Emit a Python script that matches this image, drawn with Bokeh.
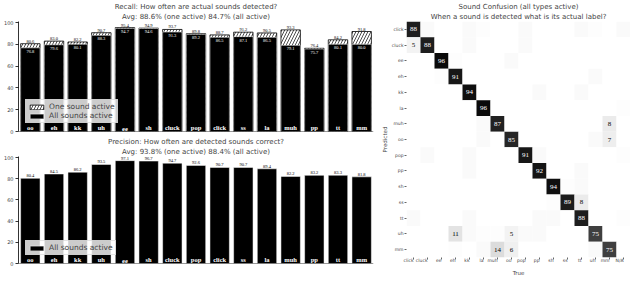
from bokeh.plotting import figure
from bokeh.layouts import row, column
from bokeh.models import ColumnDataSource, FactorRange, Range1d, Title, Span, FixedTicker
from bokeh.transform import linear_cmap
from bokeh.palettes import Greys256
from bokeh.embed import file_html
from bokeh.resources import INLINE

FONT = "DejaVu Sans"

# ---------------- data ----------------
sounds = ["oo", "eh", "kk", "uh", "ee", "sh", "cluck", "pop", "click", "ss", "la", "muh", "pp", "tt", "mm"]
recall_one = [80.6, 83.0, 82.2, 90.7, 95.4, 94.9, 93.7, 89.8, 88.7, 91.2, 90.5, 93.3, 76.4, 84.2, 91.8]
recall_all = [76.8, 79.6, 80.1, 88.3, 94.7, 94.6, 91.3, 89.2, 86.5, 87.1, 86.5, 79.1, 75.7, 80.1, 80.0]
precision_all = [80.4, 84.5, 86.2, 93.5, 97.1, 96.7, 94.7, 92.6, 90.7, 90.7, 89.4, 82.2, 83.2, 83.3, 81.8]
y_ticks = [0, 20, 40, 60, 80, 100]

recall_title = "Recall: How often are actual sounds detected?"
recall_sub = "Avg: 88.6% (one active) 84.7% (all active)"
precision_title = "Precision: How often are detected sounds correct?"
precision_sub = "Avg: 93.8% (one active) 88.4% (all active)"

pred_labels = ["click", "cluck", "ee", "eh", "kk", "la", "muh", "oo", "pop", "pp", "sh", "ss", "tt", "uh", "mm"]
true_labels = ["click", "cluck", "ee", "eh", "kk", "la", "muh", "oo", "pop", "pp", "sh", "ss", "tt", "uh", "mm", "N/A"]
confusion = [
    [88, 2, 0, 0, 2, 1, 0, 0, 2, 0, 0, 0, 2, 1, 0, 2],
    [5, 88, 0, 0, 2, 0, 0, 0, 2, 0, 0, 0, 0, 0, 0, 0],
    [0, 0, 96, 1, 0, 0, 0, 2, 0, 0, 0, 0, 0, 0, 0, 0],
    [0, 0, 1, 91, 0, 0, 0, 0, 0, 0, 0, 0, 0, 2, 0, 0],
    [0, 0, 0, 0, 94, 0, 0, 0, 0, 2, 0, 0, 2, 0, 0, 0],
    [0, 0, 0, 0, 0, 96, 0, 0, 0, 0, 0, 0, 0, 0, 0, 1],
    [0, 0, 0, 0, 0, 2, 87, 0, 0, 0, 0, 0, 0, 0, 8, 0],
    [0, 0, 0, 0, 0, 2, 0, 85, 0, 0, 0, 0, 0, 2, 7, 0],
    [0, 2, 0, 0, 2, 0, 0, 0, 91, 2, 0, 0, 0, 0, 0, 1],
    [0, 0, 0, 0, 2, 0, 0, 0, 0, 92, 0, 0, 2, 0, 0, 0],
    [0, 0, 0, 0, 0, 0, 0, 0, 0, 0, 94, 1, 2, 0, 0, 0],
    [0, 0, 0, 0, 0, 0, 0, 0, 0, 0, 1, 89, 8, 0, 0, 0],
    [2, 0, 0, 0, 2, 0, 0, 0, 0, 2, 2, 0, 88, 0, 0, 1],
    [0, 0, 0, 11, 2, 1, 1, 5, 2, 2, 0, 0, 0, 75, 0, 0],
    [0, 0, 0, 1, 0, 2, 14, 6, 0, 0, 0, 0, 0, 2, 75, 0],
]
conf_title = "Sound Confusion (all types active)"
conf_sub = "When a sound is detected what is its actual label?"


def add_titles(p, main, sub):
    p.add_layout(Title(text=sub, align="center", text_font=FONT, text_font_size="7px",
                       text_font_style="normal", standoff=1), "above")
    p.add_layout(Title(text=main, align="center", text_font=FONT, text_font_size="7px",
                       text_font_style="normal", standoff=0), "above")


def style_bar_fig(p):
    p.xgrid.visible = False
    p.ygrid.visible = False
    p.outline_line_color = None
    p.xaxis.visible = False
    p.yaxis.ticker = FixedTicker(ticks=y_ticks)
    p.yaxis.major_label_text_font_size = "5px"
    p.yaxis.major_label_text_font = FONT
    p.yaxis.major_label_standoff = 2
    p.yaxis.major_tick_out = 3
    p.yaxis.major_tick_in = 0
    p.yaxis.minor_tick_line_color = None
    p.yaxis.axis_line_width = 0.8
    p.yaxis.major_tick_line_width = 0.8
    p.add_layout(Span(location=0, dimension="width", line_color="black", line_width=0.8))


def style_legend(p):
    lg = p.legend[0]
    lg.location = (7, 8)
    lg.label_text_font = FONT
    lg.label_text_font_size = "7.5px"
    lg.glyph_width = 17
    lg.glyph_height = 6
    lg.label_height = 7
    lg.label_standoff = 4
    lg.spacing = 0
    lg.padding = 2
    lg.margin = 0
    lg.background_fill_color = "white"
    lg.background_fill_alpha = 0.8
    lg.border_line_color = "#cccccc"
    lg.border_line_width = 0.6


# ---------------- recall ----------------
rsrc = ColumnDataSource(dict(
    x=sounds, one=recall_one, all=recall_all,
    one_lbl=[f"{v:.1f}" for v in recall_one],
    all_lbl=[f"{v:.1f}" for v in recall_all],
    base=[0] * len(sounds),
))
p1 = figure(x_range=FactorRange(factors=sounds), y_range=Range1d(0, 101),
            width=378, height=135, output_backend="svg", toolbar_location=None,
            title=None, min_border_left=2, min_border_right=5, min_border_top=0, min_border_bottom=4)
add_titles(p1, recall_title, recall_sub)
p1.vbar(x="x", top="one", width=0.82, source=rsrc, fill_color="white", line_color="black",
        line_width=0.8, hatch_pattern="/", hatch_color="black", hatch_scale=6, hatch_weight=0.7,
        legend_label="One sound active")
p1.vbar(x="x", top="all", width=0.82, source=rsrc, fill_color="black", line_color="white",
        line_width=0.5, legend_label="All sounds active")
p1.text(x="x", y="one", text="one_lbl", source=rsrc, text_font=FONT, text_font_size="4.5px",
        text_align="center", text_baseline="bottom", y_offset=-1, text_color="black")
p1.text(x="x", y="all", text="all_lbl", source=rsrc, text_font=FONT, text_font_size="4.5px",
        text_align="center", text_baseline="top", y_offset=2, text_color="white")
p1.text(x="x", y="base", text="x", source=rsrc, text_font=FONT, text_font_size="6.5px",
        text_font_style="bold", text_align="center", text_baseline="bottom", y_offset=-1,
        text_color="white")
style_bar_fig(p1)
style_legend(p1)

# ---------------- precision ----------------
psrc = ColumnDataSource(dict(
    x=sounds, all=precision_all,
    all_lbl=[f"{v:.1f}" for v in precision_all],
    base=[0] * len(sounds),
))
p2 = figure(x_range=FactorRange(factors=sounds), y_range=Range1d(0, 101),
            width=378, height=140, output_backend="svg", toolbar_location=None,
            title=None, min_border_left=2, min_border_right=5, min_border_top=0, min_border_bottom=12)
add_titles(p2, precision_title, precision_sub)
p2.vbar(x="x", top="all", width=0.82, source=psrc, fill_color="black", line_color="white",
        line_width=0.5, legend_label="All sounds active")
p2.text(x="x", y="all", text="all_lbl", source=psrc, text_font=FONT, text_font_size="4.5px",
        text_align="center", text_baseline="bottom", y_offset=-1, text_color="black")
p2.text(x="x", y="base", text="x", source=psrc, text_font=FONT, text_font_size="6.5px",
        text_font_style="bold", text_align="center", text_baseline="bottom", y_offset=-1,
        text_color="white")
style_bar_fig(p2)
style_legend(p2)

# ---------------- confusion ----------------
xs, ys, vs, lbls, tcol = [], [], [], [], []
for i, pl in enumerate(pred_labels):
    for j, tl in enumerate(true_labels):
        v = confusion[i][j]
        xs.append(tl)
        ys.append(pl)
        vs.append(v)
        lbls.append(str(v) if v >= 5 else "")
        tcol.append("white" if v > 50 else "black")
csrc = ColumnDataSource(dict(x=xs, y=ys, v=vs, lbl=lbls, tc=tcol))

p3 = figure(x_range=FactorRange(factors=true_labels), y_range=FactorRange(factors=pred_labels[::-1]),
            frame_width=224, frame_height=236, output_backend="svg", toolbar_location=None,
            title=None, min_border_left=0, min_border_right=0, min_border_top=0, min_border_bottom=0)
add_titles(p3, conf_title, conf_sub)
p3.rect(x="x", y="y", width=1, height=1, source=csrc, line_color=None,
        fill_color=linear_cmap("v", list(reversed(Greys256)), 0, 100))
p3.text(x="x", y="y", text="lbl", source=csrc, text_font=FONT, text_font_size="7px",
        text_align="center", text_baseline="middle", text_color="tc")
p3.xgrid.visible = False
p3.ygrid.visible = False
p3.outline_line_color = None
for ax in (p3.xaxis[0], p3.yaxis[0]):
    ax.major_label_text_font = FONT
    ax.major_label_text_font_size = "4.5px"
    ax.major_label_standoff = 1
    ax.major_tick_out = 2
    ax.major_tick_in = 0
    ax.axis_line_color = None
    ax.major_tick_line_width = 0.6
    ax.axis_label_text_font = FONT
    ax.axis_label_text_font_size = "5.5px"
    ax.axis_label_text_font_style = "normal"
    ax.axis_label_standoff = 1
p3.xaxis.axis_label = "True"
p3.yaxis.axis_label = "Predicted"
p3.xaxis.major_label_orientation = 0

layout = row(column(p1, p2), p3)

with open("out.html", "w") as f:
    f.write(file_html(layout, INLINE))
